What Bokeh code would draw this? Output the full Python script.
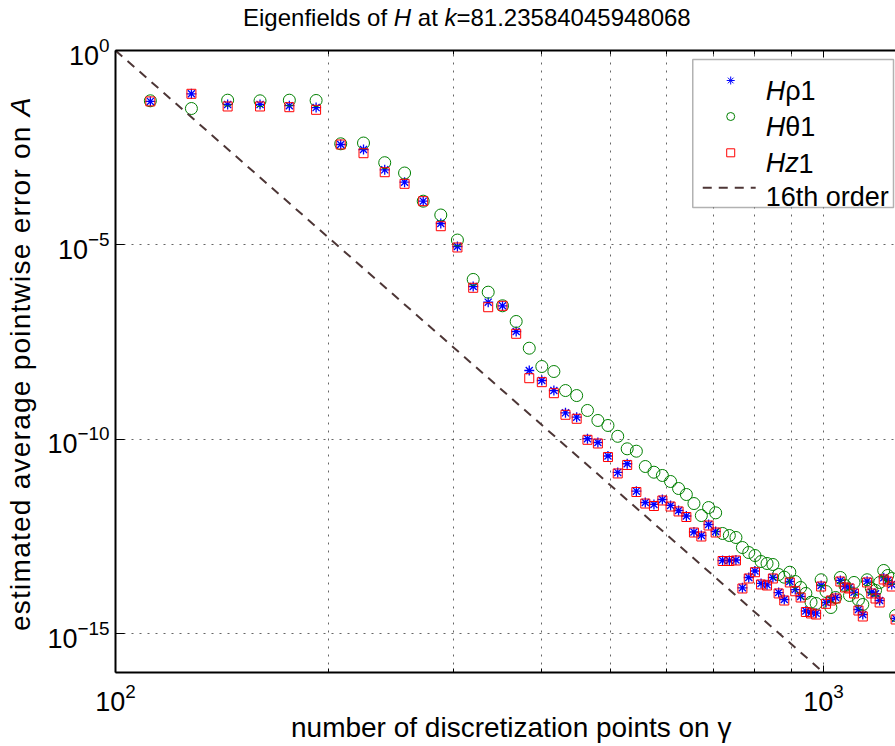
import math
from bokeh.plotting import figure
from bokeh.layouts import column, row
from bokeh.models import (Range1d, LogAxis, FixedTicker, Label, BoxAnnotation,
                          CustomJSTickFormatter, Div)
from bokeh.embed import file_html
from bokeh.resources import INLINE

# ---------------- data ----------------
N = [112, 128, 144, 160, 176, 192, 208, 224, 240, 256, 272, 288, 304, 320, 336,
     352, 368, 384, 400, 416, 432, 448, 464, 480, 496, 512, 528, 544, 560, 576,
     592, 608, 624, 640, 656, 672, 688, 704, 720, 736, 752, 768, 784, 800, 816,
     832, 848, 864, 880, 896, 912, 928, 944, 960, 976, 992, 1008, 1024, 1040,
     1056, 1072, 1088, 1104, 1120, 1136, 1152, 1168, 1184, 1200, 1216, 1232,
     1248, 1264]

H_rho = [4.9e-2, 7.7e-2, 4.1e-2, 4.1e-2, 3.8e-2, 3.4e-2, 3.82e-3, 2.84e-3,
         8.53e-4, 4.09e-4, 1.33e-4, 3.55e-5, 9.08e-6, 8.5e-7, 3.36e-7, 2.71e-7,
         5.91e-8, 5.87e-9, 3.25e-9, 1.79e-9, 4.79e-10, 3.69e-10, 1.03e-10,
         8.26e-11, 3.71e-11, 1.40e-11, 2.34e-11, 4.61e-12, 2.36e-12, 2.10e-12,
         2.82e-12, 1.98e-12, 1.47e-12, 1.06e-12, 4.11e-13, 3.34e-13, 6.41e-13,
         4.24e-13, 7.60e-14, 7.60e-14, 7.83e-14, 1.51e-14, 2.78e-14, 4.08e-14,
         1.95e-14, 1.80e-14, 2.78e-14, 1.14e-14, 7.55e-15, 2.19e-14, 1.36e-14,
         9.02e-15, 3.82e-15, 3.49e-15, 3.35e-15, 1.73e-14, 6.32e-15, 7.55e-15,
         8.5e-15, 2.33e-14, 1.63e-14, 1.57e-14, 1.16e-14, 4.18e-15, 3.10e-15,
         2.23e-14, 1.16e-14, 1.06e-14, 7.11e-15, 2.73e-14, 2.33e-14, 1.84e-14,
         2.45e-15]

H_theta = [5.08e-2, 3.22e-2, 5.27e-2, 5.08e-2, 5.27e-2, 5.18e-2, 3.98e-3, 4.17e-3,
           1.30e-3, 7.06e-4, 1.33e-4, 5.87e-5, 1.33e-5, 1.29e-6, 6.07e-7, 2.71e-7,
           1.07e-7, 2.20e-8, 7.43e-9, 5.53e-9, 1.79e-9, 1.33e-9, 5.50e-10,
           3.04e-10, 2.26e-10, 1.19e-10, 5.68e-11, 4.93e-11, 1.99e-11, 1.42e-11,
           1.17e-11, 8.19e-12, 5.41e-12, 3.79e-12, 2.22e-12, 1.09e-12, 1.75e-12,
           1.28e-12, 3.77e-13, 3.34e-13, 2.97e-13, 1.64e-13, 1.22e-13, 1.02e-13,
           7.16e-14, 6.37e-14, 6.0e-14, 3.32e-14, 2.83e-14, 3.80e-14, 2.19e-14,
           1.54e-14, 1.08e-14, 6.44e-15, 5.96e-15, 2.43e-14, 1.21e-14, 4.70e-15,
           8.5e-15, 2.78e-14, 1.73e-14, 9.57e-15, 2.07e-14, 7.41e-15, 5.61e-15,
           2.43e-14, 1.45e-14, 1.29e-14, 2.07e-14, 4.21e-14, 3.13e-14, 2.62e-14,
           2.92e-15]

H_z = [4.9e-2, 7.7e-2, 3.63e-2, 3.63e-2, 3.48e-2, 2.98e-2, 3.82e-3, 2.28e-3,
       7.40e-4, 3.72e-4, 1.33e-4, 3.02e-5, 8.57e-6, 7.87e-7, 2.49e-7, 2.71e-7,
       5.16e-8, 3.72e-9, 2.94e-9, 1.53e-9, 4.26e-10, 3.36e-10, 9.68e-11,
       7.78e-11, 3.49e-11, 1.32e-11, 2.18e-11, 4.40e-12, 2.22e-12, 1.92e-12,
       2.66e-12, 1.86e-12, 1.39e-12, 1.0e-12, 3.99e-13, 3.15e-13, 6.04e-13,
       3.99e-13, 7.38e-14, 7.38e-14, 7.6e-14, 1.45e-14, 2.62e-14, 3.80e-14,
       1.84e-14, 1.73e-14, 2.62e-14, 1.08e-14, 7.11e-15, 2.07e-14, 1.23e-14,
       8.5e-15, 3.60e-15, 3.30e-15, 3.10e-15, 1.63e-14, 5.85e-15, 7.11e-15,
       8.01e-15, 2.19e-14, 1.54e-14, 1.45e-14, 1.08e-14, 3.93e-15, 2.76e-15,
       2.07e-14, 1.08e-14, 8.01e-15, 6.32e-15, 2.47e-14, 2.19e-14, 1.63e-14,
       2.31e-15]

order_N = [100, 1000]
order_err = [1.0, 1e-16]

x_ticks = [100, 1000]
x_minor = [200, 300, 400, 500, 600, 700, 800, 900]
y_ticks = [1e-15, 1e-10, 1e-5, 1.0]

# ---------------- layout (page pixels) ----------------
PW, PH = 895, 746
TOP_H = 34            # title strip
YL_W = 44             # y-label strip
XL_TOP = 717          # top of x-label strip
MAIN_W, MAIN_H = PW - YL_W, XL_TOP - TOP_H
FL, FT, FR, FB = 114, 50, 895, 672   # frame edges in page pixels
PX_PER_DEC = 709.0
XMIN = 100.0
XMAX = 10 ** (math.log10(XMIN) + (FR - FL) / PX_PER_DEC)
YMIN, YMAX = 1e-16, 1.0
FONT = "Liberation Sans"

def dx(px):
    return 10 ** (math.log10(XMIN) + (px - FL) / (FR - FL) * (math.log10(XMAX) - math.log10(XMIN)))

def dy(py):
    return 10 ** (math.log10(YMAX) - (py - FT) / (FB - FT) * (math.log10(YMAX) - math.log10(YMIN)))

CW = {' ': 278, 'a': 556, 'd': 556, 'e': 556, 'g': 556, 'h': 556, 'i': 222,
      'm': 833, 'n': 556, 'o': 556, 'p': 556, 'r': 333, 's': 500, 't': 278,
      'u': 556, 'v': 500, 'w': 722, 'z': 500, 'A': 667, 'H': 722, 'ρ': 570,
      'θ': 556}

def tw(s, size, spacing=0.0):
    return sum(CW.get(ch, 556) for ch in s) / 1000.0 * size + spacing * len(s)

# ---------------- title (HTML text, mixed italics) ----------------
TS = 24
title_div = Div(
    text=('<div style="margin:6px 0 0 243px; font-family:\'Liberation Sans\'; '
          f'font-size:{TS}px; line-height:{TS}px; white-space:nowrap; color:#000;">'
          'Eigenfields of <i>H</i> at <i>k</i>=81.23584045948068</div>'),
    width=PW, height=TOP_H, margin=0, styles={"overflow": "hidden"})

# ---------------- y label (HTML text, rotated) ----------------
LS = 28
LSP = 1.25
y_text = "estimated average pointwise error on A"
y_len = tw(y_text, LS, LSP)
y_bottom = 364 + y_len / 2 - TOP_H
ylab_div = Div(
    text=(f'<div style="margin:{y_bottom:.0f}px 0 0 7px; width:600px; '
          f'font-family:\'Liberation Sans\'; font-size:{LS}px; line-height:{LS}px; '
          f'letter-spacing:{LSP}px; white-space:nowrap; color:#000; '
          'transform:rotate(-90deg); transform-origin:0 0;">'
          'estimated average pointwise error on <i>A</i></div>'),
    width=YL_W, height=MAIN_H, margin=0, styles={"overflow": "hidden"})

# ---------------- x label (HTML text) ----------------
xlab_div = Div(
    text=('<div style="margin:0 0 0 291px; font-family:\'Liberation Sans\'; '
          f'font-size:{LS}px; line-height:22px; white-space:nowrap; color:#000;">'
          'number of discretization points on γ</div>'),
    width=PW, height=PH - XL_TOP, margin=0, styles={"overflow": "visible"})

# ---------------- main plot ----------------
p = figure(width=MAIN_W, height=MAIN_H, x_axis_type="log", y_axis_type="log",
           x_range=Range1d(XMIN, XMAX), y_range=Range1d(YMIN, YMAX),
           output_backend="svg", toolbar_location=None,
           min_border_left=FL - YL_W, min_border_right=0,
           min_border_top=FT - TOP_H, min_border_bottom=XL_TOP - FB)
p.outline_line_color = None
p.background_fill_color = "white"
p.border_fill_color = "white"

p.xaxis.ticker = FixedTicker(ticks=x_ticks, minor_ticks=x_minor)
p.yaxis.ticker = FixedTicker(ticks=y_ticks, minor_ticks=[])

top_axis = LogAxis(ticker=FixedTicker(ticks=x_ticks, minor_ticks=x_minor),
                   formatter=CustomJSTickFormatter(code="return ''"))
p.add_layout(top_axis, "above")

for ax in p.axis:
    ax.axis_line_width = 2
    ax.axis_line_color = "black"
    ax.major_tick_line_color = "black"
    ax.minor_tick_line_color = "black"
    ax.major_tick_line_width = 1
    ax.minor_tick_line_width = 1
    ax.major_tick_out = 0
    ax.minor_tick_out = 0
    ax.major_label_text_font = FONT
    ax.major_label_text_font_size = "27px"
    ax.major_label_text_color = "black"

for ax in p.xaxis:
    ax.major_tick_in = 7
    ax.minor_tick_in = 4
    ax.major_label_standoff = 10
top_axis.major_label_standoff = 0
top_axis.axis_label_standoff = 0
for ax in p.yaxis:
    ax.major_tick_in = 9
    ax.minor_tick_in = 0
    ax.major_label_standoff = 6

for g in (p.xgrid, p.ygrid):
    g.grid_line_color = "#333333"
    g.grid_line_alpha = 0.75
    g.grid_line_dash = "2 6"
    g.grid_line_width = 1
p.xgrid.minor_grid_line_color = "#333333"
p.xgrid.minor_grid_line_alpha = 0.75
p.xgrid.minor_grid_line_dash = "2 6"

p.scatter(N, H_rho, marker="asterisk", size=10, line_color="#0000ff", line_width=1.3)
p.scatter(N, H_theta, marker="circle", size=12, fill_color=None,
          line_color="#008000", line_width=1)
p.scatter(N, H_z, marker="square", size=9, fill_color=None,
          line_color="#ff0000", line_width=1)
p.line(order_N, order_err, line_color="#4d3636", line_width=2, line_dash="9 7")

# ---------------- legend (hand-built for mixed italics) ----------------
p.add_layout(BoxAnnotation(left=dx(692), right=dx(893), top=dy(59), bottom=dy(207),
                           fill_color="white", fill_alpha=1.0,
                           line_color="black", line_width=1.5, level="annotation"))
GS = 27
mx, lx0 = 730, 765
rows = [(80, 90, "asterisk", "#0000ff", [("H", "italic"), ("ρ1", "normal")]),
        (116, 126.7, "circle", "#008000", [("H", "italic"), ("θ1", "normal")]),
        (152.3, 162.7, "square", "#ff0000", [("H", "italic"), ("z", "italic"), ("1", "normal")])]
for cy, by, mk, col, segs in rows:
    r = p.scatter([dx(mx)], [dy(cy)], marker=mk, size=8, fill_color=None,
                  line_color=col, line_width=1)
    r.level = "overlay"
    lx = lx0
    for seg, style in segs:
        p.add_layout(Label(x=dx(lx), y=dy(by), text=seg, text_font=FONT,
                           text_font_size=f"{GS}px", text_font_style=style,
                           text_align="left", text_baseline="alphabetic",
                           text_color="black"))
        lx += tw(seg, GS)
r = p.line([dx(702), dx(755)], [dy(187.3), dy(187.3)], line_color="#4d3636",
           line_width=2, line_dash="9 7")
r.level = "overlay"
p.add_layout(Label(x=dx(lx0), y=dy(196.7), text="16th order", text_font=FONT,
                   text_font_size=f"{GS}px", text_align="left",
                   text_baseline="alphabetic", text_color="black"))

layout = column(title_div, row(ylab_div, p, spacing=0), xlab_div, spacing=0)
open("out.html", "w").write(file_html(layout, INLINE))
